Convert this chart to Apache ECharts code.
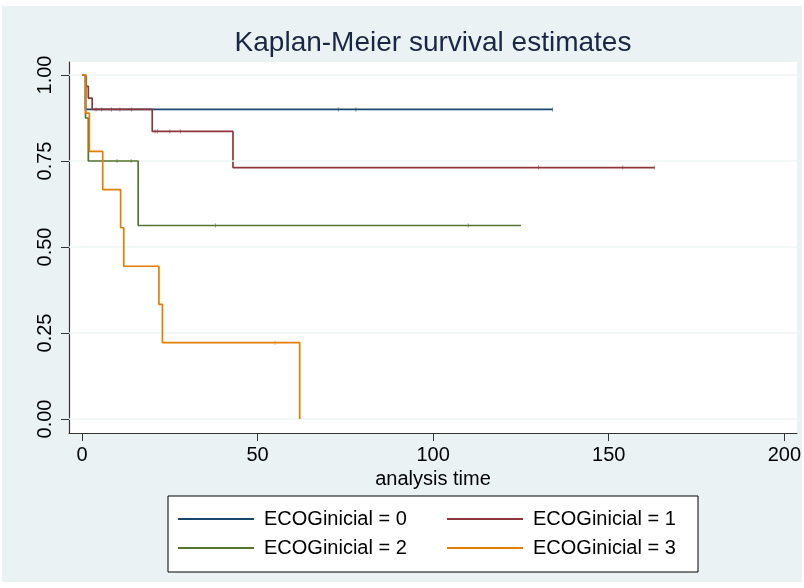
<!DOCTYPE html>
<html>
<head>
<meta charset="utf-8">
<script src="https://cdn.jsdelivr.net/npm/echarts@6/dist/echarts.min.js"></script>
<style>html,body{margin:0;padding:0;background:#fff}#c{width:804px;height:588px}</style>
</head>
<body>
<div id="c"></div>
<script>
// ---- data ----
const seriesNames = ['ECOGinicial = 0', 'ECOGinicial = 1', 'ECOGinicial = 2', 'ECOGinicial = 3'];
const times0 = [0, 1, 134];
const surv0  = [1, 0.9, 0.9];
const times1 = [0, 1.2, 1.8, 2.9, 20, 43, 163];
const surv1  = [1, 0.967, 0.933, 0.9, 0.836, 0.731, 0.731];
const times2 = [0, 1, 1.8, 16, 125];
const surv2  = [1, 0.875, 0.75, 0.5625, 0.5625];
const times3 = [0, 1.05, 2.1, 5.9, 11, 11.9, 21.9, 22.9, 62];
const surv3  = [1, 0.889, 0.778, 0.667, 0.556, 0.444, 0.333, 0.222, 0];
const censor0 = [73, 78, 134];
const censor1 = [4, 5.6, 8.4, 10.8, 14.1, 20.8, 21.5, 25, 28, 130, 154, 163];
const censor2 = [10, 14, 38, 110];
const censor3 = [55];
const xTicks = [0, 50, 100, 150, 200];
const yTicks = [0, 0.25, 0.5, 0.75, 1];
const titleText = 'Kaplan-Meier survival estimates';
const xTitle = 'analysis time';

const colors = ['#1a476f', '#90353b', '#55752f', '#e37e00'];
const allTimes = [times0, times1, times2, times3];
const allSurv = [surv0, surv1, surv2, surv3];
const allCensor = [censor0, censor1, censor2, censor3];

function pairs(t, s) { return t.map((v, i) => [v, s[i]]); }
function survAt(t, s, x) { let v = s[0]; for (let i = 0; i < t.length; i++) { if (t[i] <= x) v = s[i]; } return v; }

const FONT = '"Liberation Sans", Arial, Helvetica, sans-serif';
const series = [];
series.push({
  type: 'line', data: [], silent: true, z: 1,
  markLine: { silent: true, symbol: 'none', label: { show: false },
    lineStyle: { color: '#edf3f4', width: 1.5, type: 'solid' },
    data: yTicks.map(v => ({ yAxis: v })) }
});
for (let k = 0; k < 4; k++) {
  series.push({
    name: seriesNames[k], type: 'line', step: 'end', showSymbol: false, symbol: 'none',
    data: pairs(allTimes[k], allSurv[k]), z: 3 + k,
    lineStyle: { color: colors[k], width: 1.7 }, itemStyle: { color: colors[k] },
    animation: false
  });
  series.push({
    type: 'scatter', symbol: 'rect', symbolSize: [1, 4], z: 3 + k, silent: true,
    data: allCensor[k].map(c => [c, survAt(allTimes[k], allSurv[k], c)]),
    itemStyle: { color: colors[k], opacity: 0.6 }, animation: false
  });
}

function legendAt(name, left, top) {
  return { data: [name], left: left, top: top, padding: 0, icon: 'rect', itemWidth: 76, itemHeight: 2,
    textStyle: { fontFamily: FONT, fontSize: 20, color: '#000', padding: [0, 0, 0, 5] },
    selectedMode: false };
}

const chart = echarts.init(document.getElementById('c'), null, { renderer: 'canvas' });
chart.setOption({
  animation: false,
  backgroundColor: '#ffffff',
  graphic: [
    { type: 'rect', z: -10, shape: { x: 2, y: 6, width: 800, height: 576 }, style: { fill: '#eaf2f3' } },
    { type: 'rect', z: -5, shape: { x: 168, y: 496, width: 530, height: 76 }, style: { fill: '#ffffff', stroke: '#000', lineWidth: 1 } },
    { type: 'text', x: 433, y: 43, style: { text: titleText, fontFamily: FONT, fontSize: 28, fill: '#1a2744', align: 'center', verticalAlign: 'middle' } }
  ],
  grid: { left: 69, right: 6, top: 62, bottom: 155, show: true, backgroundColor: '#ffffff', borderWidth: 0 },
  xAxis: {
    type: 'value', min: -3.7, max: 203.6,
    name: xTitle, nameLocation: 'middle', nameGap: 34,
    nameTextStyle: { fontFamily: FONT, fontSize: 20, color: '#000' },
    axisLine: { show: true, onZero: false, lineStyle: { color: '#333', width: 1.2 } },
    axisTick: { show: true, length: 8, customValues: xTicks, lineStyle: { color: '#333' } },
    axisLabel: { customValues: xTicks, fontFamily: FONT, fontSize: 20, color: '#000', margin: 12 },
    splitLine: { show: false }
  },
  yAxis: {
    type: 'value', min: -0.0407, max: 1.0378,
    axisLine: { show: true, onZero: false, lineStyle: { color: '#333', width: 1.2 } },
    axisTick: { show: true, length: 8, customValues: yTicks, lineStyle: { color: '#333' } },
    axisLabel: { customValues: yTicks, rotate: 90, fontFamily: FONT, fontSize: 20, color: '#000', margin: 14,
      formatter: v => v.toFixed(2) },
    splitLine: { show: false }
  },
  legend: [
    legendAt(seriesNames[0], 178, 509),
    legendAt(seriesNames[1], 447, 509),
    legendAt(seriesNames[2], 178, 538),
    legendAt(seriesNames[3], 447, 538)
  ],
  series: series
});
</script>
</body>
</html>
